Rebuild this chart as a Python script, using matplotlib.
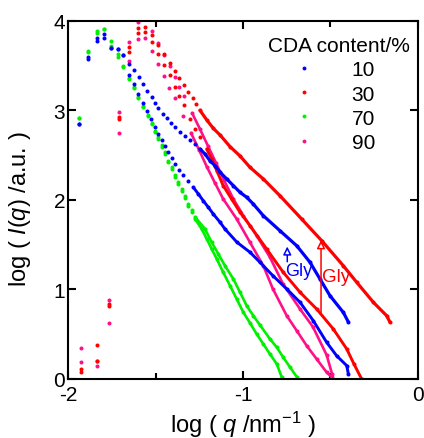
import numpy as np
import matplotlib
matplotlib.use("Agg")
import matplotlib.pyplot as plt
from matplotlib.lines import Line2D

plt.rcParams["font.family"] = ["Liberation Sans", "DejaVu Sans"]
plt.rcParams["mathtext.fontset"] = "custom"
plt.rcParams["mathtext.rm"] = "Liberation Sans"
plt.rcParams["mathtext.it"] = "Liberation Sans:italic"
plt.rcParams["axes.unicode_minus"] = False

# log q (nm^-1) / log I(q); two runs per CDA content
logq_10_gly = [-1.940, -1.886, -1.837, -1.793, -1.753, -1.717, -1.684, -1.653, -1.623, -1.597,
               -1.571, -1.547, -1.522, -1.503, -1.484, -1.459, -1.436, -1.413, -1.389, -1.360,
               -1.331, -1.303, -1.274, -1.246, -1.217, -1.189, -1.160, -1.131, -1.093, -1.055,
               -1.017, -0.979, -0.941, -0.884, -0.789, -0.693, -0.617, -0.560, -0.503, -0.427, -0.398]
logI_10_gly = [2.846, 3.601, 3.813, 3.851, 3.702, 3.684, 3.617, 3.523, 3.453, 3.374,
               3.293, 3.218, 3.151, 3.087, 3.031, 2.964, 2.920, 2.864, 2.816, 2.763,
               2.718, 2.674, 2.626, 2.570, 2.514, 2.439, 2.383, 2.310, 2.235, 2.160,
               2.086, 2.030, 1.955, 1.825, 1.657, 1.489, 1.304, 1.117, 0.931, 0.745, 0.637]

logq_10 = [-1.940, -1.886, -1.837, -1.793, -1.753, -1.717, -1.684, -1.654, -1.625, -1.598,
           -1.573, -1.547, -1.526, -1.503, -1.484, -1.465, -1.446, -1.427, -1.407, -1.389,
           -1.364, -1.341, -1.313, -1.284, -1.255, -1.227, -1.198, -1.170, -1.131, -1.103,
           -1.034, -0.960, -0.903, -0.829, -0.750, -0.674, -0.598, -0.522, -0.465, -0.407, -0.398]
logI_10 = [2.846, 3.572, 3.777, 3.807, 3.702, 3.684, 3.617, 3.393, 3.293, 3.188,
           3.087, 2.994, 2.902, 2.816, 2.734, 2.674, 2.607, 2.533, 2.466, 2.402,
           2.339, 2.279, 2.216, 2.142, 2.067, 1.992, 1.918, 1.844, 1.751, 1.676,
           1.527, 1.416, 1.304, 1.154, 1.006, 0.857, 0.651, 0.410, 0.260, 0.149, 0.056]

logq_30_gly = [-1.926, -1.836, -1.766, -1.707, -1.653, -1.602, -1.560, -1.520, -1.484, -1.450,
               -1.417, -1.389, -1.364, -1.335, -1.313, -1.287, -1.269, -1.246, -1.207, -1.170,
               -1.131, -1.074, -1.017, -0.960, -0.884, -0.789, -0.665, -0.550, -0.427, -0.350,
               -0.255, -0.179, -0.160]
logI_30_gly = [0.075, 0.380, 0.835, 2.924, 3.706, 3.918, 3.930, 3.844, 3.732, 3.628,
               3.534, 3.441, 3.360, 3.282, 3.207, 3.136, 3.069, 3.002, 2.894, 2.801,
               2.726, 2.596, 2.492, 2.365, 2.235, 2.048, 1.788, 1.545, 1.266, 1.080,
               0.857, 0.707, 0.634]

logq_30 = [-1.926, -1.836, -1.766, -1.707, -1.653, -1.602, -1.560, -1.522, -1.484, -1.450,
           -1.417, -1.389, -1.364, -1.335, -1.303, -1.274, -1.246, -1.207, -1.179, -1.149,
           -1.113, -1.065, -1.017, -0.960, -0.865, -0.770, -0.674, -0.579, -0.484, -0.407,
           -0.366, -0.322]
logI_30 = [0.112, 0.198, 0.820, 2.910, 3.650, 3.863, 3.874, 3.762, 3.628, 3.505,
           3.397, 3.266, 3.162, 3.061, 2.905, 2.793, 2.701, 2.570, 2.458, 2.324,
           2.160, 2.011, 1.863, 1.713, 1.453, 1.192, 0.969, 0.782, 0.559, 0.335,
           0.168, 0.0]

logq_70_gly = [-1.940, -1.886, -1.837, -1.793, -1.753, -1.717, -1.684, -1.653, -1.623, -1.598,
               -1.570, -1.545, -1.522, -1.503, -1.483, -1.463, -1.446, -1.427, -1.407, -1.389,
               -1.370, -1.350, -1.331, -1.313, -1.293, -1.274, -1.217, -1.179, -1.141, -1.103,
               -1.055, -1.017, -0.979, -0.941, -0.903, -0.846, -0.807, -0.770, -0.731, -0.691]
logI_70_gly = [2.916, 3.650, 3.870, 3.905, 3.773, 3.631, 3.501, 3.366, 3.26, 3.15,
               3.05, 2.95, 2.865, 2.775, 2.70, 2.61, 2.535, 2.44, 2.365, 2.28,
               2.20, 2.125, 2.045, 1.96, 1.885, 1.81, 1.676, 1.527, 1.397, 1.266,
               1.117, 0.969, 0.819, 0.707, 0.603, 0.447, 0.354, 0.242, 0.131, 0.019]

logq_70 = [-1.940, -1.886, -1.837, -1.793, -1.753, -1.717, -1.684, -1.653, -1.623, -1.598,
           -1.570, -1.545, -1.522, -1.503, -1.483, -1.463, -1.446, -1.427, -1.407, -1.389,
           -1.370, -1.350, -1.331, -1.313, -1.293, -1.274, -1.236, -1.207, -1.179, -1.150,
           -1.113, -1.074, -1.036, -0.998, -0.960, -0.922, -0.884, -0.846, -0.807, -0.779]
logI_70 = [2.916, 3.668, 3.885, 3.905, 3.724, 3.594, 3.483, 3.352, 3.248, 3.140,
           3.036, 2.935, 2.849, 2.756, 2.682, 2.589, 2.514, 2.421, 2.346, 2.257,
           2.179, 2.104, 2.022, 1.936, 1.863, 1.788, 1.676, 1.564, 1.453, 1.341,
           1.192, 1.042, 0.894, 0.745, 0.626, 0.503, 0.391, 0.279, 0.168, 0.022]

logq_90_gly = [-1.926, -1.836, -1.766, -1.707, -1.653, -1.602, -1.522, -1.484, -1.450, -1.417,
               -1.389, -1.364, -1.335, -1.291, -1.246, -1.200, -1.154, -1.109, -1.055, -0.998,
               -0.922, -0.846, -0.771, -0.674, -0.600, -0.522, -0.491]
logI_90_gly = [0.346, 0.198, 0.886, 2.987, 3.762, 3.985, 3.892, 3.758, 3.620, 3.497,
               3.378, 3.263, 3.162, 2.972, 2.793, 2.603, 2.413, 2.223, 2.011, 1.825,
               1.601, 1.360, 1.061, 0.782, 0.581, 0.268, 0.056]

logq_90 = [-1.926, -1.836, -1.766, -1.707, -1.653, -1.602, -1.560, -1.518, -1.484, -1.450,
           -1.421, -1.389, -1.343, -1.297, -1.251, -1.206, -1.160, -1.113, -1.036, -0.960,
           -0.884, -0.829, -0.750, -0.693, -0.636, -0.579, -0.522, -0.493]
logI_90 = [0.193, 0.149, 0.626, 2.745, 3.556, 3.799, 3.807, 3.665, 3.516, 3.385,
           3.255, 3.136, 2.939, 2.749, 2.559, 2.369, 2.190, 2.011, 1.788, 1.527,
           1.266, 1.006, 0.707, 0.540, 0.372, 0.223, 0.075, 0.019]

contents = ["10", "30", "70", "90"]
colors = {"10": "#0000ff", "30": "#ff0000", "70": "#00f000", "90": "#ff1088"}


def draw(ax, xs, ys, color, x_solid, lw):
    xs = np.asarray(xs)
    ys = np.asarray(ys)
    # sparse low-q points as dots, dense high-q part merges into a line
    ax.plot(xs, ys, ls="none", marker="o", ms=2.9, mew=0, color=color)
    m = xs >= x_solid
    ax.plot(xs[m], ys[m], "-", lw=lw, color=color, solid_capstyle="round",
            solid_joinstyle="round")


fig = plt.figure(figsize=(4.24, 4.39), dpi=100)
ax = fig.add_axes([0.1604, 0.1344, 0.8254, 0.8155])

draw(ax, logq_90, logI_90, colors["90"], -1.30, 1.9)
draw(ax, logq_90_gly, logI_90_gly, colors["90"], -1.30, 1.9)
draw(ax, logq_70, logI_70, colors["70"], -1.28, 1.9)
draw(ax, logq_70_gly, logI_70_gly, colors["70"], -1.28, 1.9)
draw(ax, logq_30, logI_30, colors["30"], -1.22, 2.1)
draw(ax, logq_30_gly, logI_30_gly, colors["30"], -1.26, 2.3)
draw(ax, logq_10, logI_10, colors["10"], -1.30, 2.1)
draw(ax, logq_10_gly, logI_10_gly, colors["10"], -1.26, 2.3)

# Gly arrows
ax.annotate("", xy=(-0.747, 1.48), xytext=(-0.747, 1.31),
            arrowprops=dict(arrowstyle="-|>", color=colors["10"], fc="white",
                            lw=1.1, mutation_scale=12, shrinkA=0, shrinkB=0))
ax.text(-0.757, 1.21, "Gly", color=colors["10"], fontsize=13, ha="left", va="center")
ax.annotate("", xy=(-0.554, 1.55), xytext=(-0.554, 0.745),
            arrowprops=dict(arrowstyle="-|>", color=colors["30"], fc="white",
                            lw=1.1, mutation_scale=12, shrinkA=0, shrinkB=0))
ax.text(-0.549, 1.15, "Gly", color=colors["30"], fontsize=13.5, ha="left", va="center")

ax.set_xlim(-2, 0)
ax.set_ylim(0, 4)
ax.set_xticks([-2, -1, 0])
ax.set_xticks([-1.5, -0.5], minor=True)
ax.set_yticks([0, 1, 2, 3, 4])
ax.tick_params(which="both", direction="in", top=True, right=True, width=1.5, labelsize=15)
ax.tick_params(which="major", length=5.5)
ax.tick_params(which="minor", length=4)
ax.tick_params(axis="y", pad=2)
ax.tick_params(axis="x", pad=4)
for s in ax.spines.values():
    s.set_linewidth(1.5)

ax.set_xlabel("log ( $q$ /nm$^{-1}$ )", fontsize=17, labelpad=4)
ax.set_ylabel("log ( $I$($q$) /a.u. )", fontsize=17)
ax.yaxis.set_label_coords(-0.10, 0.478)

handles = [Line2D([], [], ls="none", marker="o", ms=2.8, mew=0, color=colors[c]) for c in contents]
leg = ax.legend(handles, contents, title="CDA content/%", loc="upper right",
                bbox_to_anchor=(1.0, 0.981), frameon=False, fontsize=15, title_fontsize=15,
                handlelength=3.45, handletextpad=0.58, labelspacing=0.25,
                borderaxespad=0.2, borderpad=0.2, alignment="left")

fig.savefig("out.png", dpi=100)
